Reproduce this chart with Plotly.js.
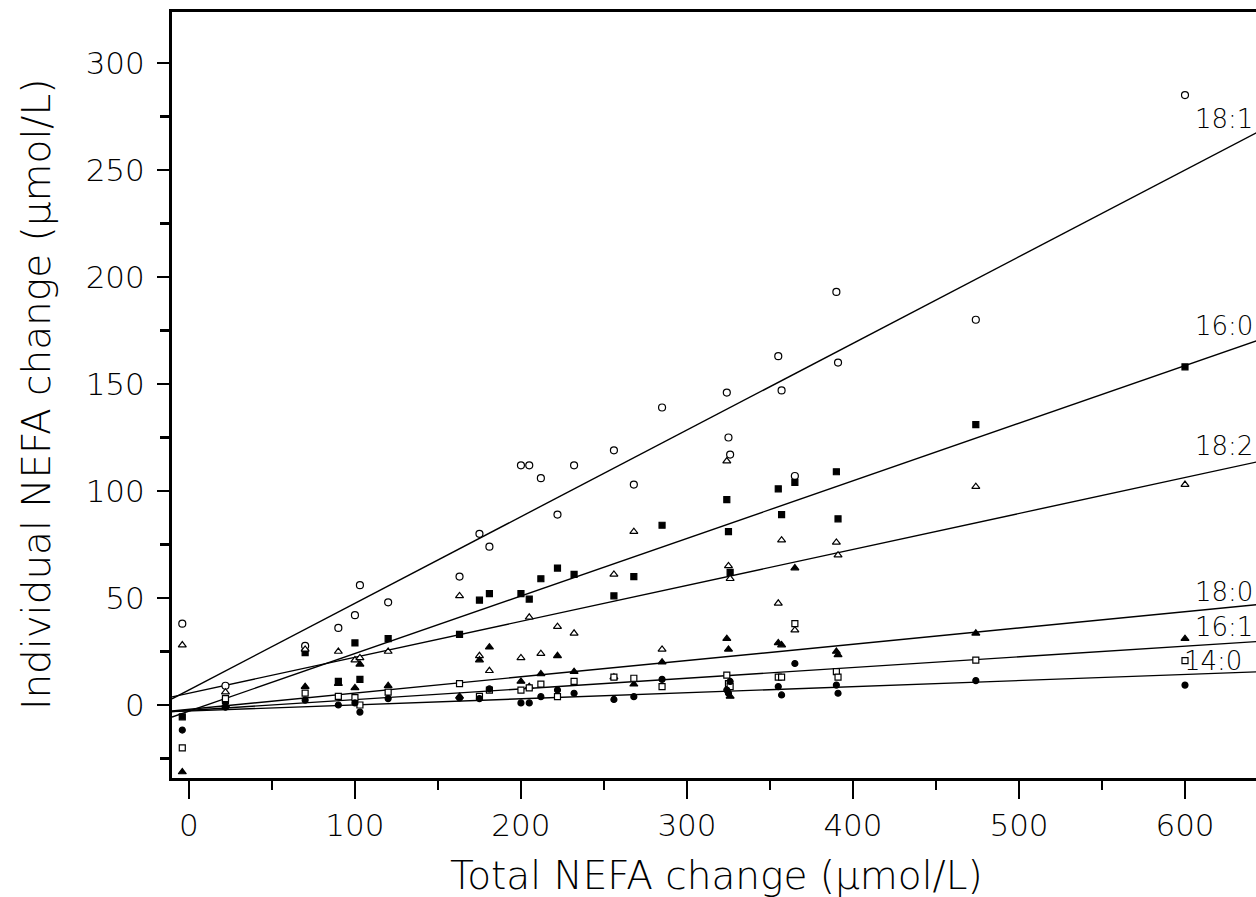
<!DOCTYPE html>
<html>
<head>
<meta charset="utf-8">
<script src="https://cdn.plot.ly/plotly-3.0.1.min.js"></script>
<style>
html,body{margin:0;padding:0;background:#fff;overflow:hidden;width:1256px;height:897px;}
#chart{width:1270px;height:897px;}
</style>
</head>
<body>
<div id="chart"></div>
<script>
// Total NEFA change (x) for each subject
var totalNEFA = [-4, 22, 70, 90, 100, 103, 120, 163, 175, 181, 200, 205, 212, 222, 232, 256, 268, 285, 324, 325, 326, 355, 357, 365, 390, 391, 474, 600];
// Individual NEFA changes per fatty acid
var fa18_1 = [38, 9, 27.6, 36, 42, 56, 48, 60, 80, 74, 112, 112, 106, 89, 112, 119, 103, 139, 146, 125, 117, 163, 147, 107, 193, 160, 180, 285];
var fa16_0 = [-5.5, 2, 24.5, 11, 29, 12, 31, 33, 49, 52, 52, 49.5, 59, 64, 61, 51, 60, 84, 96, 81, 62, 101, 89, 104, 109, 87, 131, 158];
var fa18_2 = [28, 6, 26, 25, 21, 22, 25, 51, 23, 16, 22, 41, 24, 36.6, 33.5, 61, 81, 26, 114, 65, 59, 47.5, 77, 35, 76, 70, 102, 103];
var fa18_0 = [-31.3, 0, 8.6, 10, 8, 19, 9, 4, 21, 27, 11, 8.6, 14.5, 23, 15.6, 13, 9.7, 20, 31, 26, 4, 29, 28, 64, 25, 23.4, 33.5, 31];
var fa16_1 = [-20, 3, 5.6, 4, 3.5, 0, 6, 10, 4, 7, 7, 8, 9.8, 3.9, 11, 13, 12.5, 8.6, 14, 10, 8.6, 13, 13, 38, 15.6, 13, 21, 20.7];
var fa14_0 = [-11.7, -1, 2.3, 0, 1, -3.3, 3, 3.3, 3, 7.5, 1, 1, 3.9, 7, 5.5, 2.6, 3.9, 12, 7, 5.5, 11, 8.6, 4.7, 19.4, 9.3, 5.5, 11.4, 9.3];
// Regression line end points
var fitX = [-10.2, 650];
var fit18_1 = [2.9, 270.2];
var fit16_0 = [-5.6, 172];
var fit18_2 = [3.8, 114.7];
var fit18_0 = [-2.8, 47.4];
var fit16_1 = [-3.0, 30.0];
var fit14_0 = [-3.1, 15.7];
// Line labels
var labelText = ["18:1", "16:0", "18:2", "18:0", "16:1", "14:0"];
var labelX = [605, 605, 605, 605, 605, 598];
var labelY = [274, 177, 121, 53, 36.4, 20.6];
var xTicks = [0, 100, 200, 300, 400, 500, 600];
var yTicks = [0, 50, 100, 150, 200, 250, 300];

var FONT = '"DejaVu Sans", sans-serif';
var traces = [];
function pts(y, sym, sz, fill) {
  traces.push({
    x: totalNEFA, y: y, type: 'scatter', mode: 'markers', showlegend: false, cliponaxis: false,
    marker: {symbol: sym, size: sz, color: fill ? '#000' : '#fff', line: {color: '#000', width: 1.2}}
  });
}
function fit(y) {
  traces.push({x: fitX, y: y, type: 'scatter', mode: 'lines', showlegend: false,
    line: {color: '#000', width: 1.4}});
}
fit(fit18_1); fit(fit16_0); fit(fit18_2); fit(fit18_0); fit(fit16_1); fit(fit14_0);
pts(fa18_1, 'circle', 7, false);
pts(fa16_0, 'square', 6, true);
pts(fa18_2, 'triangle-up', 7, false);
pts(fa18_0, 'triangle-up', 7, true);
pts(fa16_1, 'square', 6, false);
pts(fa14_0, 'circle', 6, true);

var ann = [];
for (var i = 0; i < labelText.length; i++) {
  ann.push({x: labelX[i], y: labelY[i], xref: 'x', yref: 'y', text: labelText[i], showarrow: false,
    xanchor: 'left', yanchor: 'middle', font: {size: 26, color: '#000', family: FONT, weight: 200}});
}
ann.push({x: 0.497, y: -0.127, xref: 'paper', yref: 'paper', text: 'Total NEFA change (µmol/L)', showarrow: false,
  xanchor: 'center', yanchor: 'middle', font: {size: 39, color: '#000', family: FONT, weight: 200}});
ann.push({x: -0.124, y: 0.5, xref: 'paper', yref: 'paper', text: 'Individual NEFA change (µmol/L)', showarrow: false,
  textangle: -90, xanchor: 'center', yanchor: 'middle', font: {size: 39, color: '#000', family: FONT, weight: 200}});

var layout = {
  width: 1270, height: 897,
  margin: {l: 172, r: 2, t: 12, b: 119},
  paper_bgcolor: '#fff', plot_bgcolor: '#fff',
  font: {family: FONT, color: '#000'},
  xaxis: {range: [-10.2, 650], tickvals: xTicks, ticktext: xTicks.map(String), ticks: 'outside', ticklen: 18, tickwidth: 2,
    tickcolor: '#000', showline: true, linewidth: 3, linecolor: '#000', mirror: true, showgrid: false, zeroline: false,
    tickfont: {size: 31, weight: 200}, ticklabelstandoff: 0,
    minor: {tickvals: [50, 150, 250, 350, 450, 550], ticks: 'outside', ticklen: 9, tickwidth: 2, tickcolor: '#000', showgrid: false}},
  yaxis: {range: [-34.1, 323.8], tickvals: yTicks, ticktext: yTicks.map(String), ticks: 'outside', ticklen: 12, tickwidth: 2.5,
    tickcolor: '#000', showline: true, linewidth: 3, linecolor: '#000', mirror: true, showgrid: false, zeroline: false,
    tickfont: {size: 31, weight: 200}, ticklabelstandoff: 6,
    minor: {tickvals: [-25, 25, 75, 125, 175, 225, 275], ticks: 'outside', ticklen: 9, tickwidth: 2.5, tickcolor: '#000', showgrid: false}},
  annotations: ann
};
Plotly.newPlot('chart', traces, layout, {displayModeBar: false, staticPlot: true});
</script>
</body>
</html>
